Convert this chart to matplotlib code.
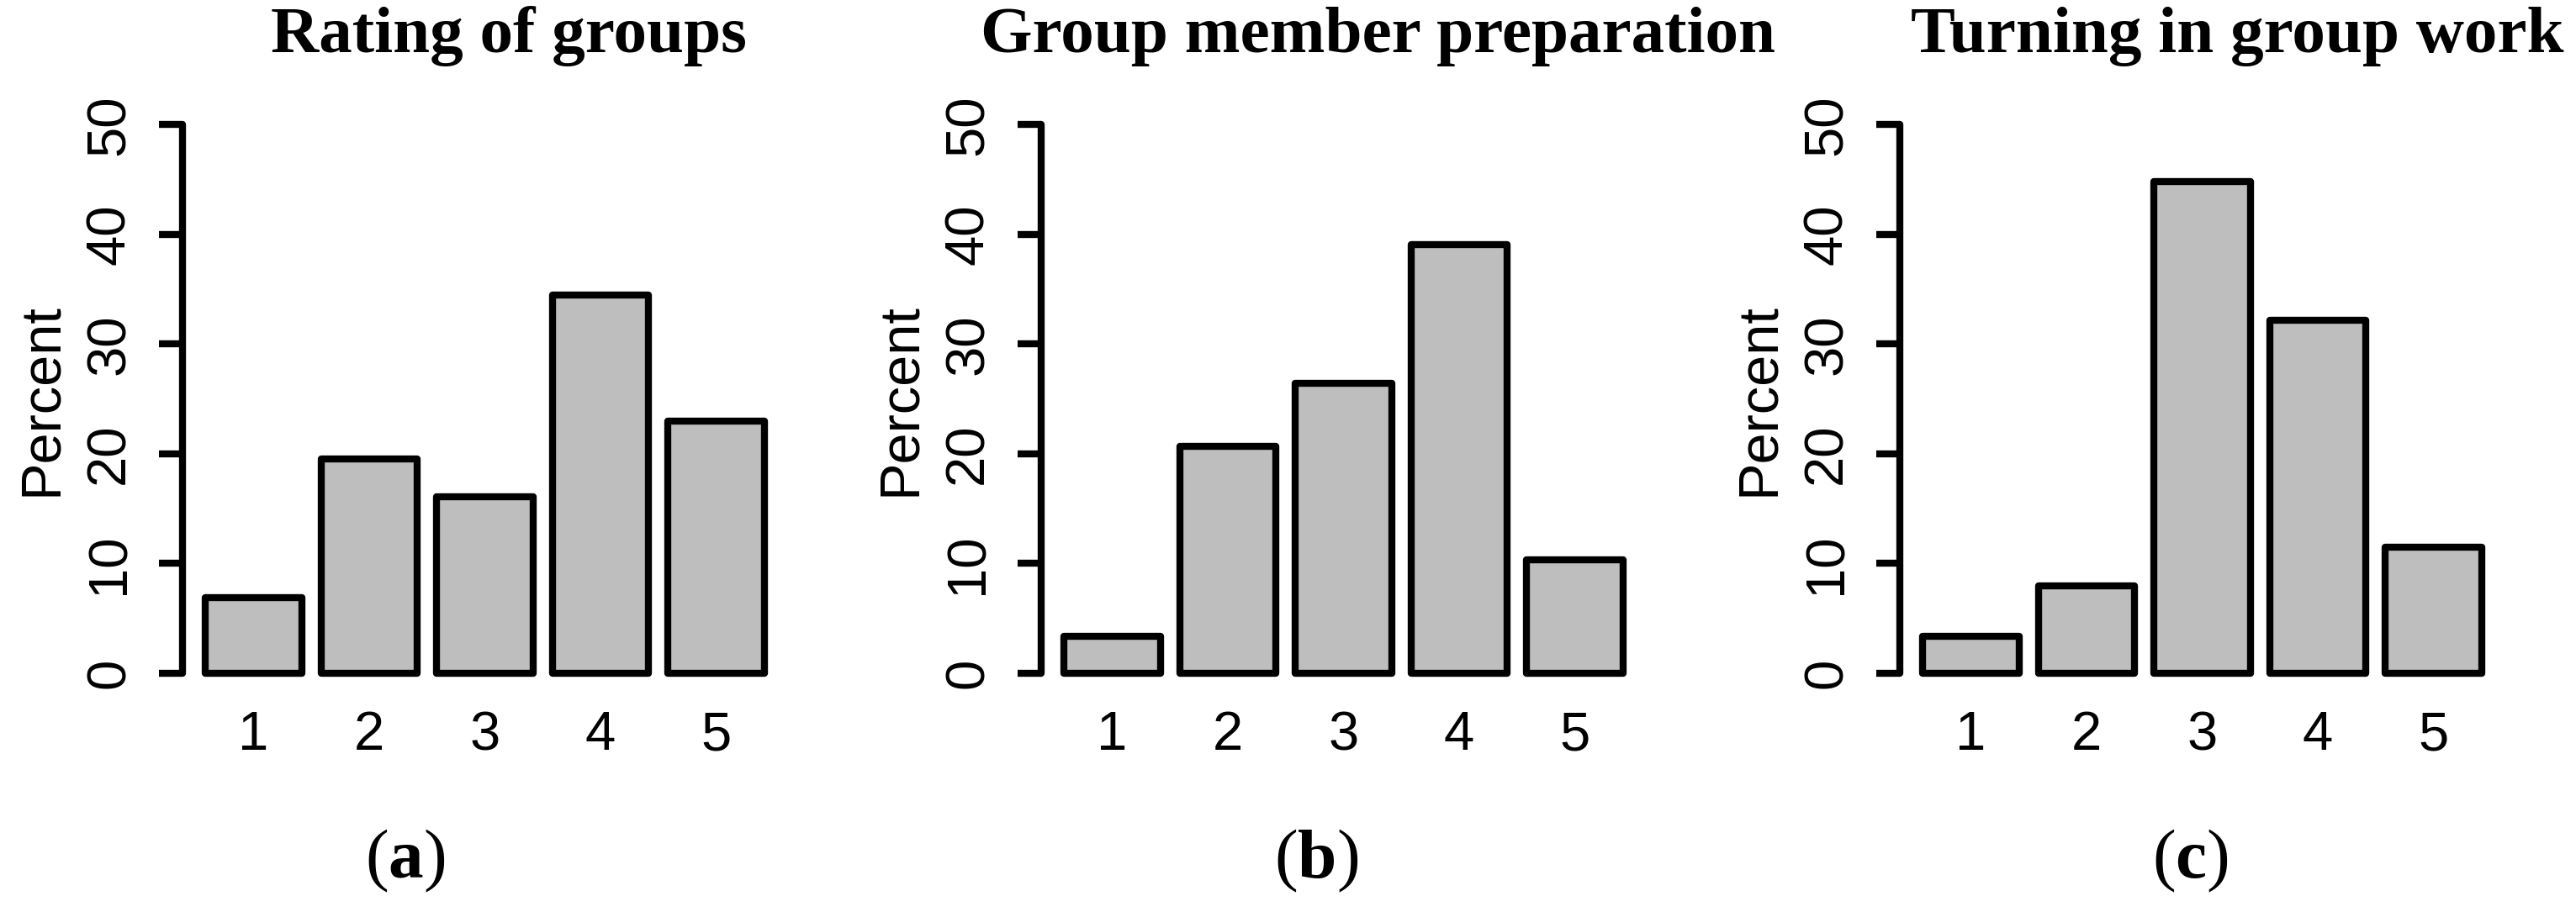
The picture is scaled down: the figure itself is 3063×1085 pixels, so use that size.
import matplotlib
matplotlib.use("Agg")
import matplotlib.pyplot as plt
import numpy as np

# percent of respondents per rating (1..5)
ratings = ["1", "2", "3", "4", "5"]
titles = ["Rating of groups", "Group member preparation", "Turning in group work"]
panel_tags = ["a", "b", "c"]
rating_of_groups = [6.9, 19.5, 16.1, 34.5, 23.0]
member_preparation = [3.4, 20.7, 26.4, 39.1, 10.3]
turning_in_work = [3.4, 8.0, 44.8, 32.2, 11.5]
yticks = [0, 10, 20, 30, 40, 50]

series = [rating_of_groups, member_preparation, turning_in_work]

plt.rcParams['font.family'] = ['Liberation Sans', 'DejaVu Sans']
plt.rcParams['mathtext.fontset'] = 'custom'
plt.rcParams['mathtext.rm'] = 'Liberation Serif'
plt.rcParams['mathtext.bf'] = 'Liberation Serif:bold'

fig = plt.figure(figsize=(30.63, 10.85), dpi=100)

# R barplot layout: width 1, space 0.2
centers = 0.7 + 1.2 * np.arange(len(ratings))
title_x = [605 / 3063, 1638 / 3063, 2660 / 3063]
tag_x = [482 / 3063, 1565 / 3063, 2604 / 3063]
lw = 6

for i, vals in enumerate(series):
    ax = fig.add_axes([0.0710 + i * 1021 / 3063, 0.2378, 0.2343, 0.6494])
    ax.bar(centers, vals, width=1.0, color='#bebebe', edgecolor='black',
           linewidth=lw, joinstyle='round')
    ax.set_xlim(-0.032, 6.232)
    ax.set_ylim(-2, 52)
    for s in ['top', 'right', 'bottom']:
        ax.spines[s].set_visible(False)
    ax.spines['left'].set_bounds(0, 50)
    ax.spines['left'].set_linewidth(lw)
    ax.spines['left'].set_capstyle('round')
    ax.set_yticks(yticks)
    ax.set_yticklabels([str(v) for v in yticks], rotation=90, va='center')
    ax.tick_params(axis='y', length=20, width=lw, pad=21, labelsize=47)
    ax.set_xticks(centers)
    ax.set_xticklabels(ratings)
    ax.tick_params(axis='x', length=0, pad=13, labelsize=47)
    ax.set_ylabel("Percent", fontsize=48)
    ax.yaxis.set_label_coords(-0.19, 0.5)
    ax.patch.set_visible(False)

    fig.text(title_x[i], 0.943, titles[i], ha='center', va='baseline',
             family='Liberation Serif', fontweight='bold', fontsize=57)
    fig.text(tag_x[i], 0.056, r'$\mathrm{(}\mathbf{%s}\mathrm{)}$' % panel_tags[i],
             ha='center', va='center', fontsize=60)

fig.savefig("out.png", dpi=100)
